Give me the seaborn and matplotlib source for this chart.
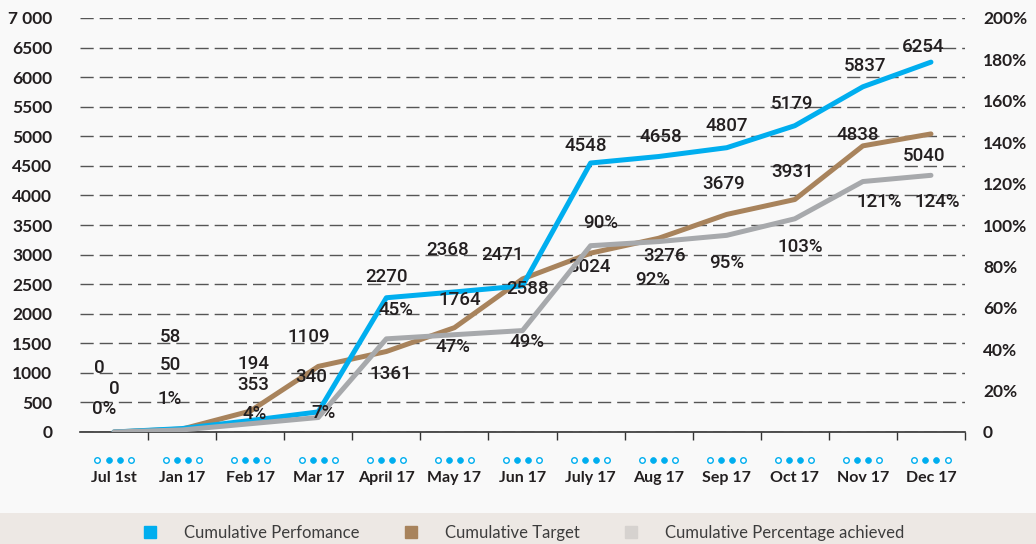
import numpy as np
import matplotlib
matplotlib.use("Agg")
import matplotlib.pyplot as plt
import seaborn as sns
from matplotlib.lines import Line2D
from matplotlib.patches import Rectangle

# data
months = ["Jul 1st", "Jan 17", "Feb 17", "Mar 17", "April 17", "May 17", "Jun 17",
          "July 17", "Aug 17", "Sep 17", "Oct 17", "Nov 17", "Dec 17"]
performance = [0, 58, 194, 340, 2270, 2368, 2471, 4548, 4658, 4807, 5179, 5837, 6254]
target = [0, 50, 353, 1109, 1361, 1764, 2588, 3024, 3276, 3679, 3931, 4838, 5040]
pct_achieved = [0, 1, 4, 7, 45, 47, 49, 90, 92, 95, 103, 121, 124]

left_ticks = list(range(0, 7001, 500))
left_labels = [str(v) for v in left_ticks[:-1]] + ["7 000"]
right_ticks = list(range(0, 201, 20))
right_labels = ["0"] + [f"{v}%" for v in right_ticks[1:]]

series_names = ["Cumulative Perfomance", "Cumulative Target", "Cumulative Percentage achieved"]

# label offsets in pixels (dx, dy up) - the source places them by hand
perf_dx = [-15, -12, 3, -7, 0, -7, -20, -5, 2, 0, -3, 2, -8]
perf_dy = [64, 92, 57, 35, 21, 42, 31, 17, 20, 22, 22, 21, 15]
targ_dx = [0, -12, 3, -9, 4, 5, 5, -1, 6, -3, -2, -5, -7]
targ_dy = [43, 64, 26, 29, -22, 28, -10, -14, -18, 30, 28, 11, -22]
pct_dx = [-10, -12, 4, 5, 10, -1, 4, 10, -6, 0, 5, 16, 6]
pct_dy = [23, 31, 10, 5, 29, -12, -11, 23, -38, -28, -28, -20, -27]

blue = "#00aeef"
brown = "#a8835c"
grey = "#a7a9ac"
bg = "#f9f9f9"
ink = "#231f20"

sns.set_theme(style="white", rc={"axes.facecolor": bg, "figure.facecolor": bg})
plt.rcParams["font.family"] = ["Lato", "DejaVu Sans"]

fig = plt.figure(figsize=(10.36, 5.44), dpi=100)
ax = fig.add_axes([80 / 1036, (544 - 432) / 544, 885 / 1036, 414 / 544])
ax2 = ax.twinx()

x = np.arange(len(months))

sns.lineplot(x=x, y=performance, ax=ax, color=blue, lw=3.6, zorder=3)
sns.lineplot(x=x, y=target, ax=ax, color=brown, lw=3.6, zorder=2)
sns.lineplot(x=x, y=pct_achieved, ax=ax2, color=grey, lw=3.6, zorder=3)

ax.set_xlim(-0.5, 12.5)
ax.set_ylim(0, 7000)
ax2.set_ylim(0, 200)

# left axis
ax.set_yticks(left_ticks)
ax.set_yticklabels(left_labels, fontsize=12.5, fontweight="bold", color=ink)
ax.tick_params(axis="y", length=0, pad=20)
ax.yaxis.grid(True, color="#555555", lw=1.0, linestyle=(0, (9.5, 4.3)))
ax.xaxis.grid(False)

# right axis
ax2.set_yticks(right_ticks)
ax2.set_yticklabels(right_labels, fontsize=12.5, fontweight="bold", color=ink)
ax2.tick_params(axis="y", length=0, pad=13)
ax2.grid(False)

# x axis
ax.set_xticks(x)
ax.set_xticklabels(months, fontsize=11.5, fontweight="bold", color=ink)
ax.set_xticks(x + 0.5, minor=True)
ax.tick_params(axis="x", which="major", length=0, pad=28)
ax.tick_params(axis="x", which="minor", bottom=True, length=6, width=1, color="#333333")

for a in (ax, ax2):
    for side in ("top", "left", "right"):
        a.spines[side].set_visible(False)
ax.spines["bottom"].set_color("#333333")
ax.spines["bottom"].set_linewidth(1.2)
ax2.spines["bottom"].set_visible(False)
ax.set_xlabel("")
ax.set_ylabel("")
ax2.set_ylabel("")

# little dot rows above each month
trans = ax.get_xaxis_transform()
for i in x:
    ax.plot([i - 0.243, i + 0.243], [-0.068, -0.068], ls="", marker="o", ms=4,
            mfc="white", mec=blue, mew=1, transform=trans, clip_on=False)
    ax.plot([i - 0.081, i + 0.081], [-0.068, -0.068], ls="", marker="o", ms=4.2,
            mfc=blue, mec=blue, mew=0.5, transform=trans, clip_on=False)

# data labels
lab_kw = dict(textcoords="offset pixels", ha="center", va="center", family=["Roboto", "DejaVu Sans"],
              fontsize=13.5, color=ink, fontweight="medium", zorder=5)
for i in x:
    ax.annotate(f"{performance[i]}", (i, performance[i]), xytext=(perf_dx[i], perf_dy[i]), **lab_kw)
    ax.annotate(f"{target[i]}", (i, target[i]), xytext=(targ_dx[i], targ_dy[i]), **lab_kw)
    ax2.annotate(f"{pct_achieved[i]}%", (i, pct_achieved[i]), xytext=(pct_dx[i], pct_dy[i]), **lab_kw)

# legend band
fig.patches.append(Rectangle((0, 0), 1, 31 / 544, transform=fig.transFigure,
                             facecolor="#ede8e4", edgecolor="none", zorder=0))
handles = [Line2D([], [], ls="", marker="s", ms=8, mfc=c, mec=c)
           for c in (blue, brown, "#d6d2cf")]
fig.legend(handles, series_names, loc="center", bbox_to_anchor=(0.506, 11 / 544),
           ncol=3, frameon=False, fontsize=12, handlelength=0.7, handletextpad=1.7,
           columnspacing=2.7, labelcolor="#3d3d3d")

fig.savefig("out.png", dpi=100, facecolor=bg)
